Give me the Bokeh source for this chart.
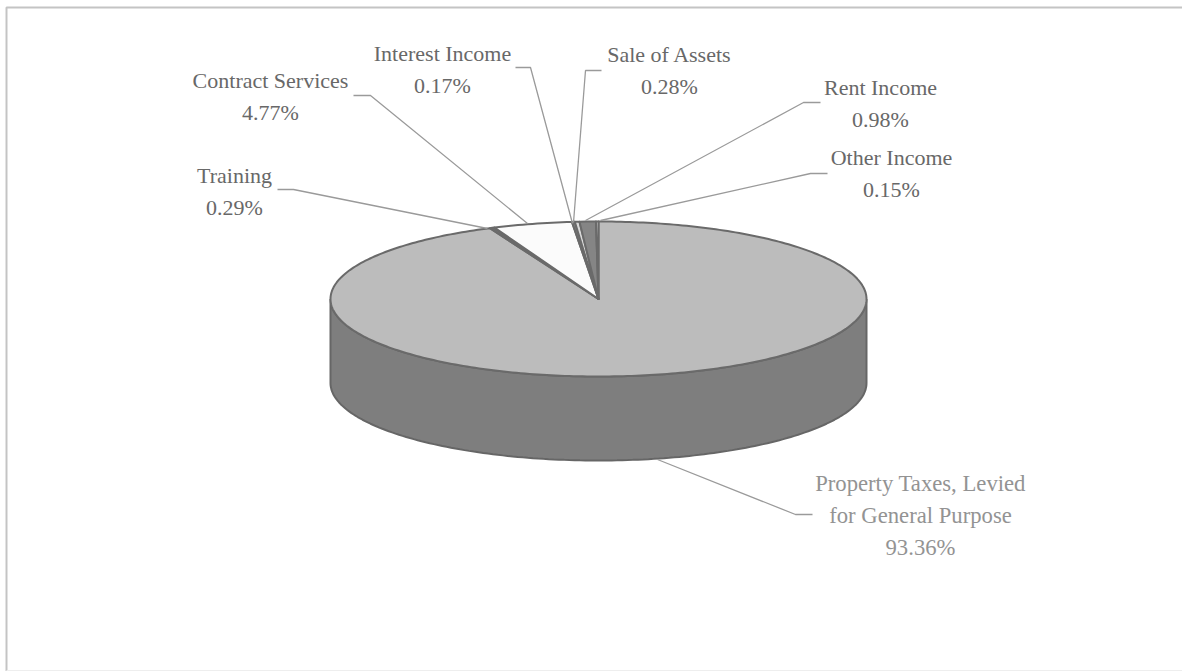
import numpy as np
from bokeh.plotting import figure
from bokeh.embed import file_html
from bokeh.resources import INLINE
from bokeh.core.properties import value

categories = ["Property Taxes, Levied for General Purpose", "Training", "Contract Services",
              "Interest Income", "Sale of Assets", "Rent Income", "Other Income"]
shares = [93.36, 0.29, 4.77, 0.17, 0.28, 0.98, 0.15]
slice_colors = ["#bcbcbc", "#6e6e6e", "#fbfbfb", "#808080", "#d8d8d8", "#858585", "#d8d8d8"]

label_lines = [["Property Taxes, Levied", "for General Purpose", "93.36%"], ["Training", "0.29%"],
               ["Contract Services", "4.77%"], ["Interest Income", "0.17%"], ["Sale of Assets", "0.28%"],
               ["Rent Income", "0.98%"], ["Other Income", "0.15%"]]
label_x = [920, 234, 270, 442, 669, 880, 891]
label_y = [483, 175, 80, 53, 54, 87, 157]
label_sizes = ["22.7px", "22px", "22px", "22px", "22px", "22px", "22px"]
label_colors = ["#939393", "#686868", "#686868", "#686868", "#686868", "#686868", "#686868"]
leader_x = [[657, 795, 812], [277, 293, 487], [353, 370, 527], [515, 530, 572], [601, 585, 573],
            [820, 803, 585], [827, 810, 600]]
leader_y = [[459, 514, 514], [189, 189, 228], [95, 95, 223], [67, 67, 223], [70, 70, 222],
            [102, 102, 220], [173, 173, 220]]

cx, cy, rx, ry, depth = 598, 298.5, 268, 77.5, 84
LINE = 32

p = figure(width=1182, height=671, x_range=(0, 1182), y_range=(671, 0), output_backend="svg",
           toolbar_location=None, min_border=0)
p.axis.visible = False
p.grid.visible = False
p.outline_line_color = None
p.background_fill_color = "#ffffff"

# frame
p.line([1182, 6, 6], [7, 7, 671], line_color="#c4c4c4", line_width=2)
p.line([6, 1182], [670, 670], line_color="#eeeeee", line_width=1)

# side wall: front half of the rim
t = np.linspace(np.pi / 2, 3 * np.pi / 2, 160)
sx = cx + rx * np.sin(t)
sy = cy - ry * np.cos(t)
p.patch(np.r_[sx, sx[::-1]], np.r_[sy, sy[::-1] + depth], fill_color="#7e7e7e",
        line_color="#666666", line_width=2)

# top face
edges = np.cumsum([0] + shares) / sum(shares) * 2 * np.pi
for a, b, col in zip(edges[:-1], edges[1:], slice_colors):
    t = np.linspace(a, b, max(3, int((b - a) * 60)))
    xs = np.r_[cx, cx + rx * np.sin(t)]
    ys = np.r_[cy, cy - ry * np.cos(t)]
    p.patch(xs, ys, fill_color=col, line_color="#6a6a6a", line_width=2, line_join="round")

# leaders
p.multi_line(leader_x, leader_y, line_color="#9a9a9a", line_width=1.3)

# labels
for lines, x, y, col, size in zip(label_lines, label_x, label_y, label_colors, label_sizes):
    ty = [y + i * LINE for i in range(len(lines))]
    p.text([x] * len(lines), ty, text=lines, text_font=value("Liberation Serif"),
           text_font_size=size, text_color=col, text_align="center", text_baseline="middle")

open("out.html", "w").write(file_html(p, INLINE))
